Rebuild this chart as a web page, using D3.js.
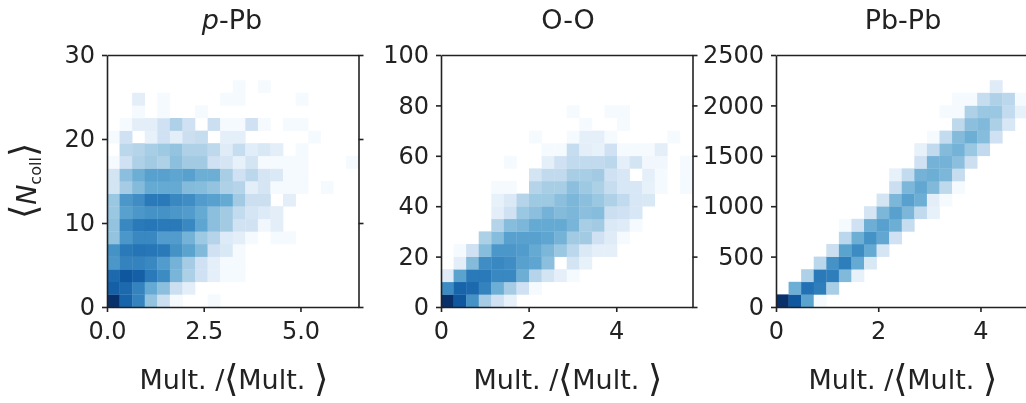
<!DOCTYPE html>
<html>
<head>
<meta charset="utf-8">
<script src="https://cdn.jsdelivr.net/npm/d3@7"></script>
<style>
  html, body { margin: 0; padding: 0; background: #fff; overflow: hidden; }
  svg { display: block; filter: blur(0.7px); }
  text { font-family: "DejaVu Sans", sans-serif; fill: #222; }
  .axis text { font-size: 24px; }
  .axis path, .axis line { stroke: #222; stroke-width: 1.6px; }
  .bracket { font-weight: 200; }
</style>
</head>
<body>
<div id="chart"></div>
<script>
// cell intensities on the Blues map, first row is the lowest N_coll bin, 0 = empty
const pPbCells = [
  [1.0,.80,.68,.40,.22,.01,0,0,.01],
  [.82,.78,.68,.52,.42,.22,.10],
  [.78,.85,.82,.72,.65,.47,.33,.20,.09,.01,.01],
  [.60,.68,.68,.66,.58,.48,.35,.20,.09,.01,.01],
  [.62,.72,.74,.73,.72,.62,.55,.45,.20,.15,.01],
  [.40,.60,.66,.66,.58,.58,.48,.37,.30,.13,.10,.01,0,.01,.01],
  [.40,.66,.72,.73,.72,.72,.66,.54,.42,.36,.19,.19,.03,.10],
  [.38,.56,.60,.62,.62,.60,.58,.52,.42,.36,.25,.17,.13,.10],
  [.38,.60,.64,.72,.72,.66,.64,.58,.56,.52,.36,.22,.22,0,.10],
  [.18,.35,.44,.52,.52,.52,.44,.43,.40,.32,.30,.10,.17,.01,.01,.01,0,.01],
  [.18,.42,.50,.56,.56,.54,.56,.50,.50,.34,.20,.28,.17,.14,.01,.01],
  [.01,.20,.32,.36,.32,.42,.36,.36,.20,.17,.08,.18,.01,.01,.01,.01,0,0,0,.01],
  [0,.28,.30,.34,.37,.40,.32,.32,.27,.12,.24,.11,.15,.10,0,.01],
  [.01,.20,0,.08,.20,.10,.22,.24,0,.09,.09,0,0,0,0,0,.01],
  [0,.01,.10,.10,.20,.32,.20,0,.22,.01,.01,.20,.01,0,.01,.01],
  [0,0,.01,0,.01,0,0,.01],
  [0,0,.10,0,.01,0,0,0,0,.01,.01,0,0,0,0,.01],
  [0,0,0,0,0,0,0,0,0,0,.01,0,.01]
];

const oOCells = [
  [1.0,.85,.62,.35,.20,.08],
  [.65,.80,.78,.68,.50,.35,.20,.01],
  [.12,.55,.72,.72,.66,.66,.50,.30,.18,.09,.01],
  [0,.10,.44,.64,.66,.64,.56,.54,.42,0,.18,.08],
  [0,.01,.20,.43,.60,.60,.58,.52,.46,.38,.28,.14,.09,.09],
  [0,0,0,.33,.43,.56,.56,.56,.54,.48,.36,.36,.20,.12,.01],
  [0,0,0,0,.30,.43,.46,.52,.52,.52,.47,.34,.36,.14,.12,.01],
  [0,0,0,0,.10,.20,.38,.42,.48,.44,.46,.42,.43,.22,.20,.16],
  [0,0,0,0,.08,.14,.30,.37,.37,.42,.46,.42,.38,.32,.26,.16,.15],
  [0,0,0,0,.01,.01,0,.30,.34,.34,.42,.37,.33,.24,.16,.16,.08,.01,0,.01],
  [0,0,0,0,0,0,0,.18,.26,.26,.34,.34,.36,.20,.16,0,.09,.01,0,.01],
  [0,0,0,0,0,.01,0,0,.09,.20,.26,.26,.26,.28,.09,.18,.03,.03,0,.01],
  [0,0,0,0,0,0,0,0,.01,.01,.24,.10,.08,.20,.01,.01,.01,.10],
  [0,0,0,0,0,0,0,.01,0,0,.01,.09,.09,.01,0,0,0,0,.01],
  [0,0,0,0,0,0,0,0,0,0,0,.01,0,0,.01],
  [0,0,0,0,0,0,0,0,0,0,.01,0,0,.01,.01]
];

const pbPbCells = [
  [1.0,.85,.55,.01],
  [0,.50,.75,.70,.34],
  [0,0,.32,.72,.70,.45,.08],
  [0,0,0,.28,.62,.70,.52,.15],
  [0,0,0,0,.22,.55,.65,.52,.17],
  [0,0,0,0,0,.28,.50,.62,.53,.20],
  [0,0,0,0,0,.01,.20,.50,.56,.50,.24],
  [0,0,0,0,0,0,0,.17,.46,.56,.46,.26,.08],
  [0,0,0,0,0,0,0,0,.18,.46,.56,.50,.10,.01],
  [0,0,0,0,0,0,0,0,0,.22,.46,.53,.45,.27,.01],
  [0,0,0,0,0,0,0,0,0,.08,.25,.48,.50,.46,.24],
  [0,0,0,0,0,0,0,0,0,0,0,.20,.48,.48,.42,.22],
  [0,0,0,0,0,0,0,0,0,0,0,.08,.26,.44,.48,.38,.26],
  [0,0,0,0,0,0,0,0,0,0,0,0,.01,.25,.44,.50,.43,.20],
  [0,0,0,0,0,0,0,0,0,0,0,0,0,0,.27,.42,.45,.33,.16],
  [0,0,0,0,0,0,0,0,0,0,0,0,0,.01,.01,.32,.38,.38,.25,.08],
  [0,0,0,0,0,0,0,0,0,0,0,0,0,0,.01,.01,.24,.32,.28,.01],
  [0,0,0,0,0,0,0,0,0,0,0,0,0,0,0,0,0,.12]
];

const xMaxes = [6.5, 5.74, 4.92];
const yMaxes = [30, 100, 2500];
const xTicks = [[0, 2.5, 5], [0, 2, 4], [0, 2, 4]];
const yTicks = [[0, 10, 20, 30], [0, 20, 40, 60, 80, 100], [0, 500, 1000, 1500, 2000, 2500]];
const xFormats = [".1f", "d", "d"];
const cells = [pPbCells, oOCells, pbPbCells];
const nBins = 20;

const width = 1026, height = 403;
const panelLeft = [107, 441, 776];
const panelWidth = 251.5;
const plotTop = 55, plotBottom = 307;

const svg = d3.select("#chart")
  .append("svg")
  .attr("width", width)
  .attr("height", height);

const color = d3.scaleSequential(d3.interpolateBlues).domain([0, 1]);

cells.forEach((rows, p) => {
  const x = d3.scaleLinear().domain([0, xMaxes[p]]).range([panelLeft[p], panelLeft[p] + panelWidth]);
  const y = d3.scaleLinear().domain([0, yMaxes[p]]).range([plotBottom, plotTop]);
  const binW = xMaxes[p] / nBins, binH = yMaxes[p] / nBins;
  const g = svg.append("g");

  // heatmap cells
  rows.forEach((row, j) => {
    g.selectAll(null)
      .data(row.map((v, i) => ({ v, i })).filter(d => d.v > 0))
      .join("rect")
        .attr("x", d => x(d.i * binW))
        .attr("y", y((j + 1) * binH))
        .attr("width", x(binW) - x(0) + 0.3)
        .attr("height", y(0) - y(binH) + 0.3)
        .attr("fill", d => color(d.v));
  });

  // axes, all four sides get a spine
  g.append("g").attr("class", "axis")
    .attr("transform", `translate(0,${plotBottom})`)
    .call(d3.axisBottom(x).tickValues(xTicks[p]).tickFormat(d3.format(xFormats[p])).tickSize(5).tickSizeOuter(0).tickPadding(10));
  g.append("g").attr("class", "axis")
    .attr("transform", `translate(${panelLeft[p]},0)`)
    .call(d3.axisLeft(y).tickValues(yTicks[p]).tickFormat(d3.format("d")).tickSize(5).tickSizeOuter(0).tickPadding(7));
  g.append("g").attr("class", "axis")
    .attr("transform", `translate(0,${plotTop})`)
    .call(d3.axisTop(x).tickValues([]).tickSizeOuter(0));
  g.append("g").attr("class", "axis")
    .attr("transform", `translate(${panelLeft[p] + panelWidth},0)`)
    .call(d3.axisRight(y).tickValues(yTicks[p]).tickSize(5).tickSizeOuter(0).tickFormat(""));

  // x label
  const label = g.append("text")
    .attr("x", panelLeft[p] + panelWidth / 2 + 1)
    .attr("y", 389)
    .attr("text-anchor", "middle")
    .attr("font-size", "27px");
  label.append("tspan").text("Mult. /");
  label.append("tspan").attr("class", "bracket").attr("font-size", "37px").attr("dy", 2).text("⟨");
  label.append("tspan").attr("dy", -2).text("Mult. ");
  label.append("tspan").attr("class", "bracket").attr("font-size", "37px").attr("dy", 2).text("⟩");
});

// titles
const titleY = 29;
const t1 = svg.append("text").attr("x", 232).attr("y", titleY).attr("text-anchor", "middle").attr("font-size", "27px");
t1.append("tspan").attr("font-style", "italic").text("p");
t1.append("tspan").text("-Pb");
svg.append("text").attr("x", 568).attr("y", titleY).attr("text-anchor", "middle").attr("font-size", "27px").text("O-O");
svg.append("text").attr("x", 903).attr("y", titleY).attr("text-anchor", "middle").attr("font-size", "27px").text("Pb-Pb");

// y label
const yl = svg.append("text")
  .attr("transform", "translate(36,181) rotate(-90)")
  .attr("text-anchor", "middle")
  .attr("font-size", "27px");
yl.append("tspan").attr("class", "bracket").attr("font-size", "37px").text("⟨");
yl.append("tspan").attr("font-style", "italic").text("N");
yl.append("tspan").attr("font-size", "16px").attr("dy", 5).text("coll");
yl.append("tspan").attr("class", "bracket").attr("font-size", "37px").attr("dy", -5).text("⟩");
</script>
</body>
</html>
